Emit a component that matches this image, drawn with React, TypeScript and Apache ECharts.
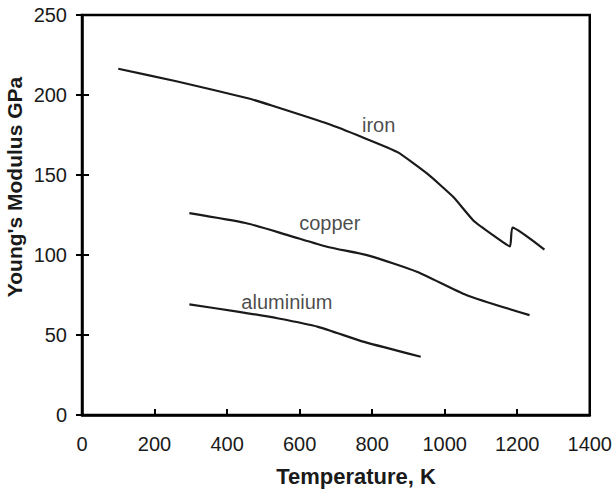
import React, { useEffect, useRef } from "react";
import * as echarts from "echarts";

const ironData: [number, number][] = [
  [100, 216.4], [260, 208.6], [460, 197.8], [523, 193.4], [678, 182], [773, 173.6],
  [870, 164.3], [952, 150.8], [1024, 136.2], [1079, 121.6], [1134, 112.3],
  [1180, 105.4], [1187, 117.1], [1275, 103.4],
];
const copperData: [number, number][] = [
  [296, 126.2], [451, 120], [569, 112.3], [678, 105], [788, 99.8], [925, 89.4],
  [1061, 74.9], [1234, 62.4],
];
const aluminiumData: [number, number][] = [
  [296, 69.1], [433, 64.5], [542, 60.3], [651, 55.1], [778, 45.7], [934, 36.4],
];
const curveLabels: { name: string; value: [number, number] }[] = [
  { name: "iron", value: [818, 181] },
  { name: "copper", value: [683, 120] },
  { name: "aluminium", value: [565, 70.7] },
];
const xTitle = "Temperature, K";
const yTitle = "Young's Modulus GPa";

const FONT = "'Liberation Sans', Arial, Helvetica, sans-serif";

export default function App() {
  const ref = useRef<HTMLDivElement>(null);
  useEffect(() => {
    if (!ref.current) return;
    const chart = echarts.init(ref.current, undefined, { renderer: "svg" });
    const lineSeries = (name: string, data: [number, number][], smooth: number) => ({
      type: "line",
      name,
      data,
      showSymbol: false,
      symbol: "none",
      smooth,
      lineStyle: { color: "#1a1a1a", width: 2.2 },
      silent: true,
    });
    chart.setOption({
      animation: false,
      backgroundColor: "#fff",
      textStyle: { fontFamily: FONT },
      grid: {
        left: 82, right: 22, top: 15, bottom: 76,
        show: true, borderColor: "#000", borderWidth: 2.5, backgroundColor: "transparent",
      },
      xAxis: {
        type: "value", min: 0, max: 1400, interval: 200,
        axisLine: { show: true, lineStyle: { color: "#000", width: 2.5 } },
        axisTick: { show: true, inside: true, length: 6, lineStyle: { color: "#000", width: 2 } },
        axisLabel: {
          color: "#1a1a1a", fontSize: 20, margin: 19, fontFamily: FONT,
          formatter: (v: number) => String(v),
        },
        splitLine: { show: false },
      },
      yAxis: [
        {
          type: "value", min: 0, max: 250, interval: 50,
          axisLine: { show: true, lineStyle: { color: "#000", width: 2.5 } },
          axisTick: { show: true, inside: false, length: 6, lineStyle: { color: "#000", width: 2 } },
          axisLabel: {
            color: "#1a1a1a", fontSize: 20, margin: 15, fontFamily: FONT,
            formatter: (v: number) => String(v),
          },
          splitLine: { show: false },
        },
        {
          type: "value", min: 0, max: 250, interval: 50, position: "left", offset: 0,
          axisLine: { show: true, lineStyle: { color: "rgba(0,0,0,0)", width: 1 } },
          axisTick: { show: true, inside: true, length: 7, lineStyle: { color: "#000", width: 2 } },
          axisLabel: { show: false },
          splitLine: { show: false },
        },
      ],
      graphic: [
        {
          type: "text", x: 356, y: 476,
          style: {
            text: xTitle, font: `bold 22px ${FONT}`, fill: "#1a1a1a",
            align: "center", verticalAlign: "middle",
          },
        },
        {
          type: "text", x: 4, y: 187, rotation: Math.PI / 2,
          style: {
            text: yTitle, font: `bold 21px ${FONT}`, fill: "#1a1a1a",
            align: "center", verticalAlign: "top",
          },
        },
      ],
      series: [
        lineSeries("iron", ironData, 0.15),
        lineSeries("copper", copperData, 0.2),
        lineSeries("aluminium", aluminiumData, 0.2),
        {
          type: "scatter",
          data: curveLabels,
          symbolSize: 0,
          silent: true,
          label: {
            show: true, position: "inside", formatter: "{b}",
            color: "#1a1a1a", fontSize: 20, fontFamily: FONT,
          },
        },
      ],
    });
    return () => chart.dispose();
  }, []);
  return (
    <div
      ref={ref}
      style={{ position: "fixed", left: 0, top: 0, width: 615, height: 491, background: "#fff" }}
    />
  );
}
